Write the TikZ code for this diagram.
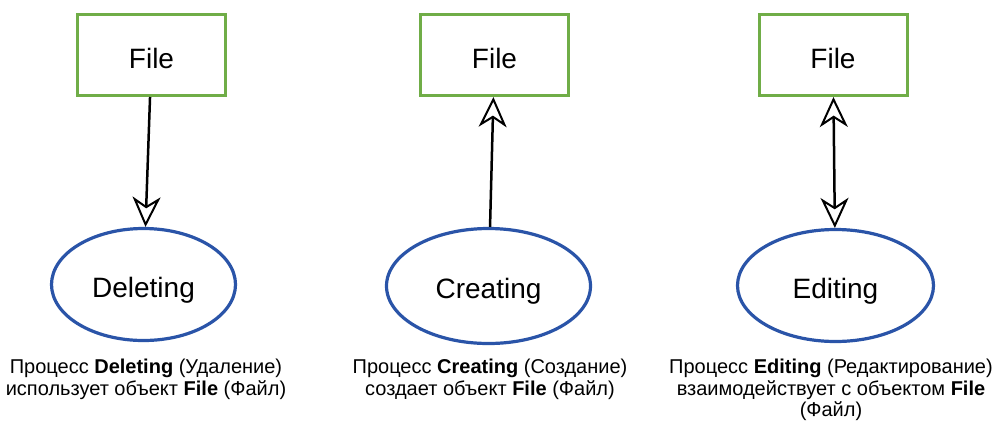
\documentclass[tikz,border=0pt]{standalone}
\usepackage{fontspec}
\setmainfont{Liberation Sans}
\usetikzlibrary{shapes.geometric,arrows.meta}
\definecolor{filegreen}{RGB}{112,173,71}
\definecolor{procblue}{RGB}{42,84,168}
\tikzset{
	object/.style={draw=filegreen,line width=3pt,minimum width=148pt,minimum height=81pt,text height=26pt,text depth=0pt,font=\fontsize{28}{30}\selectfont},
	process/.style={ellipse,draw=procblue,line width=3.2pt,text height=25pt,text depth=0pt,font=\fontsize{28}{30}\selectfont},
	caption/.style={align=center,anchor=north,inner sep=0pt,font=\fontsize{20}{21.5}\selectfont},
	link/.style={line width=2.5pt}
}
\begin{document}
\begin{tikzpicture}[x=1pt,y=-1pt,>={Stealth[open,length=30pt,width=28pt,inset=9pt,line width=2pt]}]
	\useasboundingbox (0,0) rectangle (996,421);
	% deleting
	\node[object] (file1) at (151.5,55) {File};
	\node[process,minimum width=184pt,minimum height=112pt] (deleting) at (143.5,284.5) {Deleting};
	\node[caption] (deletingnote) at (146,359) {Процесс \textbf{Deleting} (Удаление)\\использует объект \textbf{File} (Файл)};
	\draw[link,->] (file1) -- (deleting);
	% creating
	\node[object] (file2) at (494.5,55) {File};
	\node[process,minimum width=204pt,minimum height=115pt] (creating) at (488.5,286) {Creating};
	\node[caption] (creatingnote) at (490,359) {Процесс \textbf{Creating} (Создание)\\создает объект \textbf{File} (Файл)};
	\draw[link,->] (creating) -- (file2);
	% editing
	\node[object] (file3) at (833,55) {File};
	\node[process,minimum width=196pt,minimum height=112pt] (editing) at (835.5,285.5) {Editing};
	\node[caption] (editingnote) at (831,359) {Процесс \textbf{Editing} (Редактирование)\\взаимодействует с объектом \textbf{File}\\(Файл)};
	\draw[link,<->] (file3) -- (editing);
\end{tikzpicture}
\end{document}
